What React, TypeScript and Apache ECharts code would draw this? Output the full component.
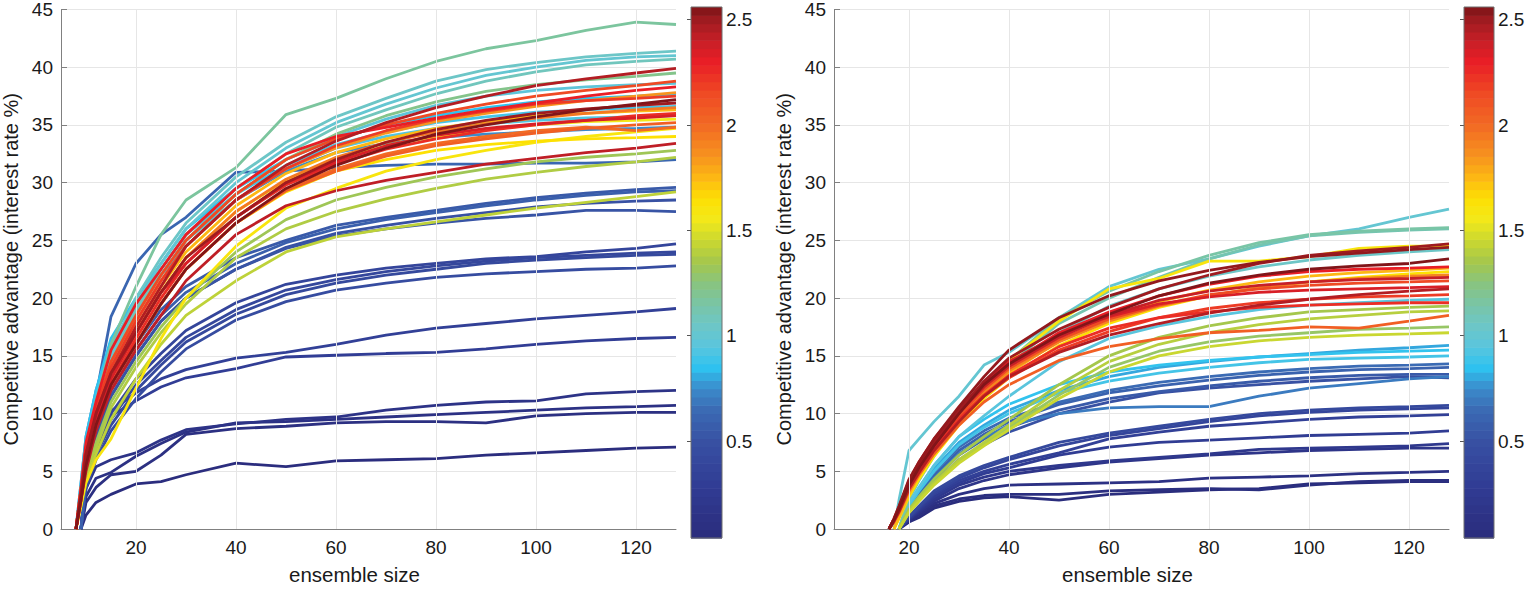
import * as echarts from 'echarts';
import React, { useEffect, useRef } from 'react';

type Curve = { c: number; y: (number | null)[] };

// x samples (ensemble size)
const leftX = [8, 9, 10, 12, 15, 20, 25, 30, 40, 50, 60, 70, 80, 90, 100, 110, 120, 128];
const rightX = [16, 17, 18, 20, 22, 25, 30, 35, 40, 50, 60, 70, 80, 90, 100, 110, 120, 128];

const xTicks = [20, 40, 60, 80, 100, 120];
const colorTicks = [0.5, 1, 1.5, 2, 2.5];
const colorMin = 0.04;
const colorMax = 2.56;

// left panel curves: c = colour parameter, y = competitive advantage at leftX
const leftCurves: Curve[] = [
  { c: 0.06, y: [null, 0, 1.2, 2.3, 3.0, 3.9, 4.1, 4.7, 5.7, 5.4, 5.9, 6.0, 6.1, 6.4, 6.6, 6.8, 7.0, 7.1] },
  { c: 0.1, y: [null, 0, 2.3, 3.6, 4.7, 5.0, 6.4, 8.2, 8.7, 8.9, 9.2, 9.3, 9.3, 9.2, 9.8, 10.0, 10.1, 10.1] },
  { c: 0.12, y: [null, 0, 2.8, 4.4, 4.9, 6.3, 7.4, 8.4, 9.2, 9.3, 9.5, 9.7, 9.9, 10.1, 10.3, 10.5, 10.6, 10.7] },
  { c: 0.15, y: [null, 0, 3.5, 5.4, 6.0, 6.6, 7.7, 8.6, 9.1, 9.5, 9.7, 10.3, 10.7, 11.0, 11.1, 11.7, 11.9, 12.0] },
  { c: 0.3, y: [null, 0, 4.0, 7.0, 9.8, 11.1, 12.3, 13.1, 13.9, 14.9, 15.05, 15.2, 15.3, 15.6, 16.0, 16.3, 16.5, 16.6] },
  { c: 0.33, y: [null, 0, 4.5, 7.5, 10.2, 11.8, 13.0, 13.8, 14.8, 15.3, 16.0, 16.8, 17.4, 17.8, 18.2, 18.5, 18.8, 19.1] },
  { c: 0.38, y: [null, 0, 4.5, 7.5, 10.0, 13.0, 15.2, 17.2, 19.6, 21.2, 22.0, 22.6, 23.0, 23.4, 23.6, 24.0, 24.3, 24.7] },
  { c: 0.4, y: [null, 0, 4.0, 7.0, 9.5, 12.5, 14.6, 16.6, 19.0, 20.7, 21.6, 22.3, 22.8, 23.2, 23.5, 23.7, 23.9, 24.0] },
  { c: 0.42, y: [null, 0, 4.0, 6.5, 9.0, 12.0, 14.2, 16.2, 18.6, 20.3, 21.3, 22.0, 22.5, 23.0, 23.3, 23.5, 23.7, 23.8] },
  { c: 0.45, y: [null, 0, 3.5, 6.0, 8.5, 11.3, 13.6, 15.6, 18.1, 19.7, 20.7, 21.3, 21.8, 22.1, 22.3, 22.5, 22.6, 22.8] },
  { c: 0.5, y: [null, 0, 4.5, 8.0, 11.5, 15.0, 18.0, 20.0, 22.5, 24.4, 25.6, 26.3, 26.9, 27.4, 27.9, 28.2, 28.4, 28.5] },
  { c: 0.52, y: [null, 0, 4.5, 8.0, 11.5, 15.0, 18.0, 20.0, 22.5, 24.3, 25.4, 26.0, 26.5, 26.9, 27.2, 27.6, 27.6, 27.5] },
  { c: 0.55, y: [null, 0, 5.0, 9.0, 12.5, 16.0, 19.0, 21.0, 23.5, 25.0, 26.3, 27.0, 27.6, 28.2, 28.7, 29.1, 29.4, 29.6] },
  { c: 0.58, y: [null, 0, 4.5, 8.5, 12.0, 15.5, 18.5, 20.5, 23.0, 24.8, 26.0, 26.8, 27.4, 28.0, 28.5, 28.9, 29.2, 29.3] },
  { c: 0.62, y: [0, 3, 6.5, 11.5, 18.4, 23.0, 25.5, 27.0, 30.9, 31.0, 31.3, 31.5, 31.6, 31.6, 31.7, 31.7, 31.8, 32.0] },
  { c: 0.75, y: [0, 4, 8, 12, 16, 19, 22, 24.5, 28.5, 31, 32.6, 33.4, 33.9, 34.2, 34.4, 34.6, 34.7, 34.8] },
  { c: 0.85, y: [0, 4, 8, 12, 16.5, 20, 23, 26, 29.5, 32, 33.8, 35.0, 35.8, 36.5, 37.0, 37.3, 37.5, 37.7] },
  { c: 0.9, y: [0, 3.5, 7.5, 11.5, 16, 19.5, 22.5, 25.5, 29, 31.5, 33.3, 34.4, 35.2, 35.7, 36.1, 36.3, 36.5, 36.6] },
  { c: 0.93, y: [0, 3.5, 7, 11, 15, 19, 22, 25, 28.5, 31.2, 33, 34.0, 34.7, 35.1, 35.4, 35.6, 35.7, 35.8] },
  { c: 0.97, y: [0, 3, 6, 10, 14, 18.5, 22, 25, 29, 32, 34, 35.5, 36.7, 37.5, 38.0, 38.3, 38.5, 38.6] },
  { c: 1.0, y: [0, 3.5, 6.5, 10.5, 15, 19.5, 23, 26, 30, 33, 35.2, 36.8, 38.2, 39.3, 40.0, 40.6, 40.9, 41.0] },
  { c: 1.05, y: [0, 3.5, 7, 11, 15.5, 20, 23.5, 26.5, 30.5, 33.5, 35.7, 37.3, 38.8, 39.8, 40.4, 40.9, 41.2, 41.4] },
  { c: 1.08, y: [0, 3, 6.5, 10, 14.5, 19, 22.5, 25.5, 29.5, 32.5, 34.8, 36.3, 37.7, 38.8, 39.6, 40.2, 40.5, 40.7] },
  { c: 1.17, y: [0, 3.5, 7, 11, 16, 21, 25.5, 28.5, 31.3, 35.9, 37.3, 39.0, 40.5, 41.6, 42.3, 43.2, 43.9, 43.7] },
  { c: 1.22, y: [0, 3.5, 6.5, 10.5, 14.5, 18.5, 22.0, 25.0, 29.0, 32.0, 34.2, 35.8, 37.0, 37.9, 38.5, 38.9, 39.2, 39.5] },
  { c: 1.33, y: [0, 2.5, 5, 7.5, 11, 14.5, 17.5, 20.0, 24.0, 26.8, 28.5, 29.6, 30.5, 31.2, 31.8, 32.2, 32.5, 32.8] },
  { c: 1.38, y: [0, 2.5, 5, 7, 10.5, 14.0, 17.0, 19.5, 23.5, 26.0, 27.5, 28.6, 29.5, 30.3, 30.9, 31.4, 31.8, 32.2] },
  { c: 1.42, y: [0, 2, 4.5, 6.5, 9.5, 13.0, 16.0, 18.5, 21.5, 24.0, 25.3, 26.0, 26.6, 27.2, 27.8, 28.3, 28.8, 29.2] },
  { c: 1.55, y: [0, 3, 6, 9.5, 13, 17, 20.5, 23.5, 27.5, 30.2, 32.0, 33.2, 34.0, 34.6, 35.0, 35.3, 35.4, 35.5] },
  { c: 1.6, y: [0, 2, 4, 6, 7.8, 12.2, 16.5, 20.0, 24.5, 27.8, 29.5, 31.0, 32.0, 32.8, 33.5, 34.0, 34.4, 34.7] },
  { c: 1.65, y: [0, 3, 6, 9, 12.5, 16, 19.5, 22.5, 26.5, 29.2, 31.0, 32.0, 32.8, 33.3, 33.6, 33.8, 33.9, 34.0] },
  { c: 1.75, y: [0, 3, 6.5, 10, 13.5, 17.5, 21, 24, 28, 30.8, 32.6, 33.8, 34.7, 35.3, 35.8, 36.0, 36.2, 36.3] },
  { c: 1.85, y: [0, 3, 6.5, 10, 14, 18, 21.5, 24.5, 28.5, 31.2, 33.0, 34.3, 35.3, 36.0, 36.6, 37.1, 37.5, 37.8] },
  { c: 1.95, y: [0, 3, 6, 9.5, 13, 17, 20.5, 23.5, 27.5, 30.3, 32.2, 33.5, 34.4, 35.1, 35.6, 36.0, 36.3, 36.5] },
  { c: 2.0, y: [0, 2.5, 5.5, 9, 12.5, 16, 19.5, 22.5, 26.5, 29.4, 31.2, 32.5, 33.4, 34.0, 34.5, 34.8, 34.5, 34.8] },
  { c: 2.05, y: [0, 2.5, 5.5, 9, 12.5, 16, 19.5, 22.5, 26.5, 29.3, 31.0, 32.3, 33.2, 33.8, 34.3, 34.7, 35.0, 35.2] },
  { c: 2.15, y: [0, 3.5, 7, 10.5, 14.5, 18.5, 22, 25, 29, 32, 33.8, 35.0, 36.0, 36.8, 37.5, 38.0, 38.4, 38.8] },
  { c: 2.2, y: [0, 3.5, 7, 10.5, 14, 18, 21.5, 24.5, 28.5, 31.2, 33.2, 34.5, 35.5, 36.2, 36.8, 37.1, 37.3, 37.5] },
  { c: 2.25, y: [0, 3, 6, 9, 12.5, 16.5, 20, 23, 27, 29.8, 31.6, 32.9, 33.8, 34.5, 35.0, 35.4, 35.8, 36.0] },
  { c: 2.3, y: [0, 3.5, 7.5, 11, 15.5, 19.5, 22.5, 25.5, 29.5, 32.5, 34.0, 34.8, 35.6, 36.3, 36.9, 37.5, 38.0, 38.3] },
  { c: 2.35, y: [0, 3, 6, 9.5, 13, 17, 20.5, 23, 27, 30, 31.8, 33.2, 34.1, 34.7, 35.1, 35.4, 35.6, 35.8] },
  { c: 2.42, y: [0, 2.5, 5, 8.5, 12, 15.5, 18.5, 21.5, 25.5, 28.0, 29.3, 30.2, 30.9, 31.6, 32.1, 32.6, 33.0, 33.4] },
  { c: 2.45, y: [0, 3, 6.5, 10, 13.5, 17.5, 21, 24.5, 28.5, 31.5, 33.6, 35.2, 36.5, 37.5, 38.4, 39.0, 39.5, 39.9] },
  { c: 2.5, y: [0, 3, 6.5, 10, 13.5, 17, 20.5, 23.5, 27, 30, 32, 33.5, 34.6, 35.4, 36.0, 36.4, 36.7, 36.9] },
  { c: 2.55, y: [0, 2.5, 5.5, 9, 12.5, 16, 19.5, 22.5, 26.5, 29.5, 31.5, 33.0, 34.2, 35.0, 35.7, 36.3, 36.8, 37.2] },
];

// right panel curves at rightX
const rightCurves: Curve[] = [
  { c: 0.05, y: [null, null, 0, 0.6, 1.0, 1.8, 2.4, 2.7, 2.8, 2.5, 3.0, 3.2, 3.4, 3.5, 3.9, 4.0, 4.1, 4.1] },
  { c: 0.08, y: [null, null, 0, 0.7, 1.2, 2.0, 2.6, 2.9, 3.0, 3.0, 3.3, 3.4, 3.5, 3.4, 3.8, 4.1, 4.2, 4.2] },
  { c: 0.12, y: [null, null, 0, 0.8, 1.4, 2.2, 3.0, 3.5, 3.8, 3.9, 4.0, 4.1, 4.4, 4.5, 4.6, 4.8, 4.9, 5.0] },
  { c: 0.18, y: [null, null, 0, 0.8, 1.5, 2.4, 3.5, 4.2, 4.7, 5.3, 5.8, 6.1, 6.4, 6.6, 6.8, 6.9, 7.0, 7.0] },
  { c: 0.22, y: [null, null, 0, 0.9, 1.6, 2.6, 3.8, 4.5, 5.0, 5.5, 5.9, 6.2, 6.5, 6.9, 7.0, 7.1, 7.2, 7.4] },
  { c: 0.28, y: [null, null, 0, 0.9, 1.7, 2.8, 4.0, 4.8, 5.3, 6.4, 7.1, 7.5, 7.7, 7.9, 8.1, 8.2, 8.3, 8.5] },
  { c: 0.33, y: [null, null, 0, 1.0, 1.8, 3.0, 4.2, 5.0, 5.6, 6.6, 7.8, 8.4, 8.9, 9.2, 9.5, 9.7, 9.8, 9.9] },
  { c: 0.38, y: [null, null, 0, 1.0, 1.9, 3.1, 4.4, 5.3, 6.0, 7.2, 8.1, 8.7, 9.3, 9.8, 10.1, 10.3, 10.4, 10.5] },
  { c: 0.42, y: [null, null, 0, 1.1, 2.0, 3.3, 4.6, 5.5, 6.2, 7.5, 8.3, 8.9, 9.5, 10.0, 10.3, 10.5, 10.6, 10.7] },
  { c: 0.5, y: [null, null, 0, 1.5, 2.5, 4.0, 6.0, 7.3, 8.4, 10.0, 11.0, 11.8, 12.2, 12.5, 12.8, 13.0, 13.2, 13.1] },
  { c: 0.55, y: [null, null, 0, 1.6, 2.7, 4.3, 6.4, 7.8, 8.8, 10.3, 11.3, 11.9, 12.4, 12.8, 13.1, 13.3, 13.4, 13.4] },
  { c: 0.6, y: [null, null, 0, 1.8, 3.0, 4.6, 6.8, 8.2, 9.3, 10.8, 11.8, 12.4, 12.9, 13.3, 13.6, 13.8, 13.9, 14.0] },
  { c: 0.65, y: [null, null, 0, 1.9, 3.2, 4.9, 7.1, 8.5, 9.6, 11.0, 12.0, 12.7, 13.2, 13.6, 13.9, 14.1, 14.2, 14.3] },
  { c: 0.7, y: [null, null, 0, 1.7, 2.8, 4.4, 6.5, 7.9, 9.0, 10.0, 10.5, 10.6, 10.6, 11.5, 12.2, 12.6, 13.0, 13.2] },
  { c: 0.8, y: [null, null, 0, 2.0, 3.4, 5.2, 7.5, 9.0, 10.3, 12.0, 13.2, 14.0, 14.5, 14.9, 15.2, 15.5, 15.7, 15.9] },
  { c: 0.86, y: [null, null, 0, 2.2, 3.6, 5.5, 8.0, 9.5, 10.8, 12.5, 13.6, 14.2, 14.6, 14.9, 15.1, 15.3, 15.4, 15.5] },
  { c: 0.9, y: [null, null, 0, 2.0, 3.3, 5.0, 7.3, 8.8, 10.0, 11.8, 12.8, 13.5, 14.0, 14.4, 14.7, 14.8, 14.9, 15.0] },
  { c: 0.95, y: [null, null, 0, 2.2, 3.6, 5.5, 8.0, 9.8, 11.5, 14.5, 16.5, 17.6, 18.4, 19.0, 19.4, 19.6, 19.8, 19.9] },
  { c: 1.0, y: [null, 0, 2.5, 6.8, 7.8, 9.3, 11.5, 14.2, 15.3, 18.3, 21.0, 22.5, 23.4, 24.5, 25.4, 26.0, 27.0, 27.7] },
  { c: 1.05, y: [null, null, 0, 2.6, 4.2, 6.3, 9.3, 11.8, 13.8, 17.0, 19.3, 20.8, 21.9, 22.7, 23.3, 23.7, 24.0, 24.2] },
  { c: 1.12, y: [null, null, 0, 2.6, 4.3, 6.5, 9.6, 12.1, 14.2, 17.8, 20.0, 21.8, 23.4, 24.6, 25.4, 25.7, 25.9, 26.0] },
  { c: 1.15, y: [null, null, 0, 2.8, 4.5, 6.8, 10.0, 12.5, 14.6, 18.3, 20.6, 22.3, 23.7, 24.8, 25.5, 25.8, 26.0, 26.1] },
  { c: 1.3, y: [null, null, 0, 1.5, 2.5, 3.9, 5.9, 7.4, 8.8, 11.6, 14.0, 15.4, 16.2, 16.7, 17.0, 17.3, 17.4, 17.5] },
  { c: 1.35, y: [null, null, 0, 1.7, 2.8, 4.3, 6.4, 8.0, 9.5, 12.5, 15.0, 16.6, 17.6, 18.3, 18.8, 19.0, 19.2, 19.3] },
  { c: 1.4, y: [null, null, 0, 1.5, 2.6, 4.0, 6.0, 7.5, 9.0, 12.0, 14.5, 16.0, 17.0, 17.7, 18.2, 18.5, 18.8, 18.9] },
  { c: 1.45, y: [null, null, 0, 1.4, 2.4, 3.8, 5.7, 7.2, 8.6, 11.3, 13.6, 15.0, 15.8, 16.3, 16.6, 16.8, 16.9, 17.0] },
  { c: 1.6, y: [null, 0, 1.0, 3.0, 4.5, 6.5, 9.5, 12.3, 14.6, 18.0, 20.8, 21.7, 23.2, 23.2, 23.6, 24.3, 24.5, 24.5] },
  { c: 1.65, y: [null, 0, 0.9, 2.8, 4.3, 6.3, 9.0, 11.3, 13.1, 15.9, 17.8, 19.2, 20.2, 20.9, 21.4, 21.8, 22.1, 22.3] },
  { c: 1.75, y: [null, 0, 1.0, 3.0, 4.6, 6.6, 9.4, 11.7, 13.5, 16.3, 18.3, 19.7, 20.7, 21.4, 21.9, 22.2, 22.4, 22.6] },
  { c: 1.9, y: [0, 0.7, 1.6, 3.6, 5.1, 7.0, 9.7, 11.9, 13.7, 16.2, 18.0, 19.3, 20.2, 20.9, 21.4, 21.7, 21.9, 22.0] },
  { c: 2.05, y: [0, 0.6, 1.4, 3.3, 4.7, 6.5, 9.0, 11.0, 12.5, 14.6, 15.8, 16.5, 17.0, 17.2, 17.5, 17.4, 18.0, 18.5] },
  { c: 2.15, y: [0, 0.8, 1.7, 3.8, 5.3, 7.2, 9.8, 12.1, 13.9, 16.4, 18.2, 19.4, 20.3, 20.8, 21.1, 21.3, 21.4, 21.5] },
  { c: 2.2, y: [0, 0.7, 1.5, 3.5, 4.9, 6.8, 9.4, 11.5, 13.1, 15.5, 17.1, 18.3, 19.1, 19.6, 19.9, 20.1, 20.2, 20.3] },
  { c: 2.25, y: [0, 0.7, 1.6, 3.6, 5.0, 6.9, 9.5, 11.6, 13.3, 15.8, 17.4, 18.3, 18.8, 19.2, 19.4, 19.5, 19.6, 19.6] },
  { c: 2.3, y: [0, 0.8, 1.8, 4.0, 5.5, 7.4, 10.2, 12.5, 14.3, 17.0, 18.8, 20.2, 21.2, 21.9, 22.3, 22.5, 22.6, 22.7] },
  { c: 2.35, y: [0, 0.9, 1.9, 4.2, 5.8, 7.8, 10.4, 12.7, 14.5, 16.8, 18.4, 19.5, 20.1, 20.5, 20.7, 20.8, 20.9, 21.0] },
  { c: 2.4, y: [0, 0.8, 1.8, 4.0, 5.5, 7.5, 10.1, 12.3, 14.1, 16.6, 18.5, 19.8, 20.6, 21.1, 21.4, 21.6, 21.7, 21.8] },
  { c: 2.45, y: [0, 0.7, 1.5, 3.5, 4.9, 6.8, 9.3, 11.5, 13.2, 15.3, 16.8, 17.8, 18.7, 19.4, 19.9, 20.3, 20.6, 20.8] },
  { c: 2.5, y: [0, 0.8, 1.8, 4.0, 5.5, 7.5, 10.3, 12.8, 14.8, 17.3, 19.2, 20.8, 22.0, 23.0, 23.7, 24.1, 24.4, 24.7] },
  { c: 2.52, y: [0, 0.9, 2.0, 4.3, 5.8, 7.8, 10.6, 13.2, 15.5, 18.3, 20.2, 21.5, 22.4, 23.1, 23.6, 23.9, 24.2, 24.4] },
  { c: 2.55, y: [0, 0.8, 1.7, 3.8, 5.3, 7.2, 10.0, 12.5, 14.3, 16.8, 18.6, 20.2, 21.3, 22.0, 22.5, 22.8, 23.0, 23.4] },
];

// colormap stops [parameter, colour]
const colormap: [number, string][] = [
  [0.04, '#2a2c7c'],
  [0.3, '#313d95'],
  [0.5, '#3851a3'],
  [0.65, '#3b6bb4'],
  [0.75, '#3b8bcb'],
  [0.85, '#2ec3f0'],
  [0.95, '#5ac5dd'],
  [1.05, '#6dc6c7'],
  [1.15, '#79c5a6'],
  [1.25, '#88c47f'],
  [1.35, '#a5c74c'],
  [1.45, '#c9d731'],
  [1.55, '#f2e91a'],
  [1.65, '#fde003'],
  [1.75, '#fdb814'],
  [1.85, '#f7941e'],
  [2.0, '#f26a24'],
  [2.15, '#ef4a24'],
  [2.3, '#e91e26'],
  [2.4, '#c71f27'],
  [2.5, '#9f1b20'],
  [2.56, '#7b1417'],
];

const hex = (h: string) => [1, 3, 5].map((i) => parseInt(h.slice(i, i + 2), 16));

function colorAt(v: number): string {
  if (v <= colormap[0][0]) return colormap[0][1];
  for (let i = 1; i < colormap.length; i++) {
    const [v1, c1] = colormap[i];
    if (v <= v1) {
      const [v0, c0] = colormap[i - 1];
      const t = (v - v0) / (v1 - v0);
      const a = hex(c0);
      const b = hex(c1);
      const rgb = a.map((x, k) => Math.round(x + (b[k] - x) * t));
      return `rgb(${rgb.join(',')})`;
    }
  }
  return colormap[colormap.length - 1][1];
}

const FONT = '"Liberation Sans", Arial, Helvetica, sans-serif';
const TEXT = '#1a1a1a';
const AXIS = '#808080';
const GRID = '#e6e6e6';
const BANDS = 64;

const App: React.FC = () => {
  const chartRef = useRef<HTMLDivElement>(null);

  useEffect(() => {
    if (!chartRef.current) return;
    const chart = echarts.init(chartRef.current, undefined, { renderer: 'svg' });

    const bands: number[][] = [];
    for (let i = 0; i < BANDS; i++) {
      const lo = colorMin + ((colorMax - colorMin) * i) / BANDS;
      const hi = colorMin + ((colorMax - colorMin) * (i + 1)) / BANDS;
      bands.push([lo, hi, (lo + hi) / 2]);
    }

    const mainX = (gridIndex: number) => ({
      type: 'value' as const,
      gridIndex,
      min: 5,
      max: 128,
      name: 'ensemble size',
      nameLocation: 'middle' as const,
      nameGap: 35,
      nameTextStyle: { fontSize: 20.5, fontFamily: FONT, color: TEXT, padding: [0, 28, 0, 0] },
      axisLine: { show: true, lineStyle: { color: AXIS } },
      axisTick: { show: true, inside: true, length: 6, customValues: xTicks, lineStyle: { color: AXIS } },
      axisLabel: { customValues: xTicks, fontSize: 19, fontFamily: FONT, color: TEXT, margin: 9 },
      splitLine: { show: false },
    });

    const mainY = (gridIndex: number) => ({
      type: 'value' as const,
      gridIndex,
      min: 0,
      max: 45,
      interval: 5,
      name: 'Competitive advantage (interest rate %)',
      nameLocation: 'middle' as const,
      nameGap: 40,
      nameTextStyle: { fontSize: 20, fontFamily: FONT, color: TEXT },
      axisLine: { show: true, lineStyle: { color: AXIS } },
      axisTick: { show: true, inside: true, length: 6, lineStyle: { color: AXIS } },
      axisLabel: { fontSize: 19, fontFamily: FONT, color: TEXT, margin: 8 },
      splitLine: { show: true, lineStyle: { color: GRID, width: 1 } },
    });

    const barX = (gridIndex: number) => ({ type: 'value' as const, gridIndex, min: 0, max: 1, show: false });

    const barY = (gridIndex: number) => ({
      type: 'value' as const,
      gridIndex,
      min: colorMin,
      max: colorMax,
      position: 'right' as const,
      axisLine: { show: false },
      axisTick: { show: true, inside: true, length: 4, customValues: colorTicks, lineStyle: { color: '#555' } },
      axisLabel: {
        customValues: colorTicks,
        fontSize: 19,
        fontFamily: FONT,
        color: TEXT,
        margin: 4,
        formatter: (v: number) => String(v),
      },
      splitLine: { show: false },
    });

    const lineSeries = (curves: Curve[], xs: number[], axis: number) =>
      [...curves]
        .sort((a, b) => a.c - b.c)
        .map((cv) => ({
          type: 'line' as const,
          xAxisIndex: axis,
          yAxisIndex: axis,
          data: xs.map((x, i) => [x, cv.y[i] === null ? '-' : cv.y[i]]),
          showSymbol: false,
          symbol: 'none',
          silent: true,
          lineStyle: { width: 2.8, color: colorAt(cv.c) },
          itemStyle: { color: colorAt(cv.c) },
        }));

    const gridLines = (axis: number) => ({
      type: 'line' as const,
      xAxisIndex: axis,
      yAxisIndex: axis,
      data: [[5, 0]],
      showSymbol: false,
      symbol: 'none',
      silent: true,
      lineStyle: { opacity: 0 },
      markLine: {
        silent: true,
        symbol: ['none', 'none'],
        label: { show: false },
        lineStyle: { color: GRID, width: 1, type: 'solid' as const },
        data: xTicks.map((v) => ({ xAxis: v })),
      },
    });

    const colorBar = (axis: number) => ({
      type: 'custom' as const,
      xAxisIndex: axis,
      yAxisIndex: axis,
      silent: true,
      data: bands,
      renderItem: (_params: any, api: any) => {
        const p0 = api.coord([0, api.value(0)]);
        const p1 = api.coord([1, api.value(1)]);
        return {
          type: 'rect',
          shape: { x: p0[0], y: p1[1], width: p1[0] - p0[0], height: p0[1] - p1[1] + 0.6 },
          style: { fill: colorAt(api.value(2)) },
        };
      },
    });

    const barFrame = (axis: number) => ({
      type: 'custom' as const,
      xAxisIndex: axis,
      yAxisIndex: axis,
      silent: true,
      z: 5,
      data: [[0, colorMin]],
      renderItem: (params: any) => {
        const cs = params.coordSys;
        return {
          type: 'rect',
          shape: { x: cs.x, y: cs.y, width: cs.width, height: cs.height },
          style: { fill: 'none', stroke: '#6e6e6e', lineWidth: 1 },
        };
      },
    });

    chart.setOption({
      animation: false,
      backgroundColor: '#ffffff',
      grid: [
        { left: 61, top: 7, width: 615, height: 531 },
        { left: 691, top: 7, width: 31, height: 531 },
        { left: 834, top: 7, width: 615, height: 531 },
        { left: 1464, top: 7, width: 30, height: 531 },
      ],
      xAxis: [mainX(0), barX(1), mainX(2), barX(3)],
      yAxis: [mainY(0), barY(1), mainY(2), barY(3)],
      series: [
        gridLines(0),
        ...lineSeries(leftCurves, leftX, 0),
        colorBar(1),
        barFrame(1),
        gridLines(2),
        ...lineSeries(rightCurves, rightX, 2),
        colorBar(3),
        barFrame(3),
      ],
    });

    return () => {
      chart.dispose();
    };
  }, []);

  return (
    <div
      ref={chartRef}
      style={{ position: 'absolute', left: 0, top: 0, width: '1529px', height: '590px', background: '#fff' }}
    />
  );
};

export default App;
